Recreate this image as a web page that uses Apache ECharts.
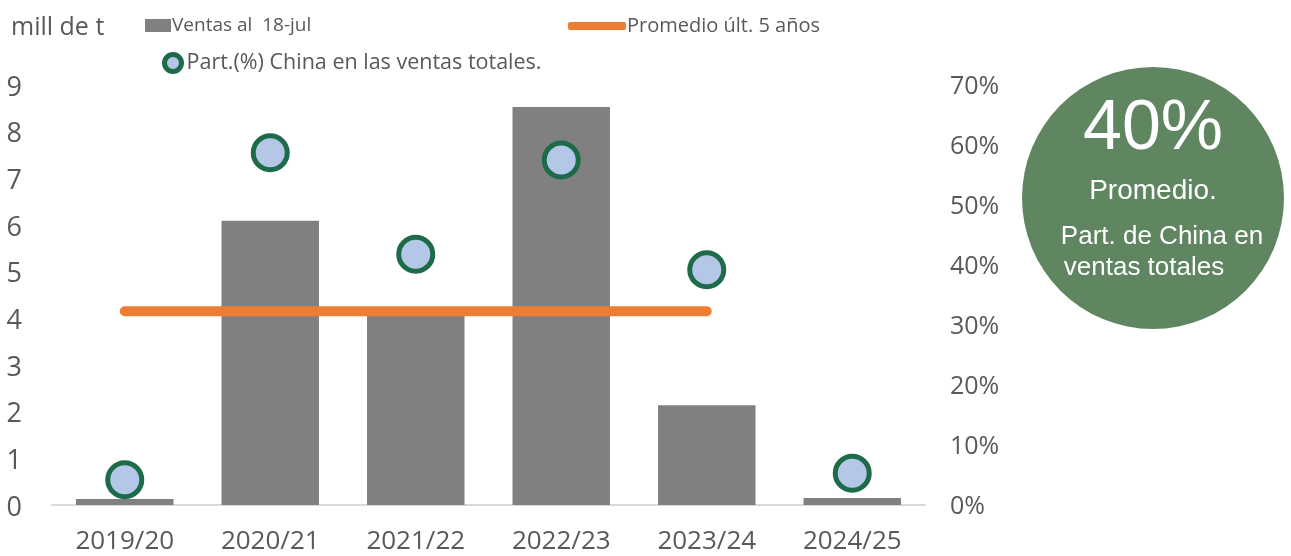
<!DOCTYPE html>
<html lang="es">
<head>
  <meta charset="UTF-8">
  <title>Ventas</title>
  <style type="text/css">
    * { margin: 0; padding: 0; }
    html, body { width: 100%; height: 100%; overflow: hidden; background: #fff; }
    #main { width: 1291px; height: 556px; }
  </style>
  <script src="https://cdn.jsdelivr.net/npm/echarts@6/dist/echarts.min.js"></script>
</head>
<body>
<div id="main"></div>
<script type="text/javascript">
  var categories = ['2019/20', '2020/21', '2021/22', '2022/23', '2023/24', '2024/25'];
  var ventas = [0.13, 6.09, 4.05, 8.53, 2.14, 0.15];
  var promedio = [4.15, 4.15, 4.15, 4.15, 4.15, null];
  var partChina = [0.042, 0.587, 0.418, 0.575, 0.392, 0.053];
  var leftTicks = [0, 9, 1];
  var rightTicks = [0, 0.7, 0.1];

  var font = '"Open Sans", sans-serif';
  var grey = '#595959';

  var chart = echarts.init(document.getElementById('main'));
  var option = {
    animation: false,
    title: {
      text: 'mill de t',
      left: 6, top: 10,
      textStyle: { fontFamily: font, fontSize: 25, fontWeight: 'normal', color: grey }
    },
    legend: [
      {
        data: ['Ventas al  18-jul'],
        left: 140, top: 11,
        itemWidth: 26, itemHeight: 13,
        icon: 'rect',
        textStyle: { fontFamily: font, fontSize: 19, color: grey, padding: [0, 0, 0, -4] }
      },
      {
        data: ['Promedio últ. 5 años'],
        left: 563, top: 11,
        itemWidth: 58, itemHeight: 8,
        icon: 'roundRect',
        textStyle: { fontFamily: font, fontSize: 20, color: grey, padding: [0, 0, 0, -4] }
      },
      {
        data: [{
          name: 'Part.(%) China en las ventas totales.',
          itemStyle: { color: '#b4c7e7', borderColor: '#1e6b4a', borderWidth: 5 }
        }],
        left: 157, top: 47,
        itemWidth: 17, itemHeight: 17,
        icon: 'circle',
        textStyle: { fontFamily: font, fontSize: 21.5, color: grey, padding: [0, 0, 0, 0] }
      }
    ],
    grid: { left: 52, right: 366, top: 85, bottom: 51 },
    xAxis: {
      type: 'category',
      data: categories,
      axisLine: { lineStyle: { color: '#d9d9d9', width: 2 } },
      axisTick: { show: false },
      axisLabel: { interval: 0, fontFamily: font, fontSize: 26, color: grey, margin: 24 }
    },
    yAxis: [
      {
        type: 'value',
        min: leftTicks[0], max: leftTicks[1], interval: leftTicks[2],
        splitLine: { show: false },
        axisLine: { show: false },
        axisTick: { show: false },
        axisLabel: {
          margin: 30,
          formatter: function (v) { return '{t|' + v + '}'; },
          rich: { t: { fontFamily: font, fontSize: 27, color: grey, padding: [6, 0, 0, 0] } }
        }
      },
      {
        type: 'value',
        min: rightTicks[0], max: rightTicks[1], interval: rightTicks[2],
        splitLine: { show: false },
        axisLine: { show: false },
        axisTick: { show: false },
        axisLabel: {
          margin: 25,
          formatter: function (v) { return '{t|' + Math.round(v * 100) + '%}'; },
          rich: { t: { fontFamily: font, fontSize: 25, color: grey, padding: [4, 0, 0, 0] } }
        }
      }
    ],
    series: [
      {
        name: 'Ventas al  18-jul',
        type: 'bar',
        data: ventas,
        barWidth: '67%',
        itemStyle: { color: '#808080' },
        z: 1
      },
      {
        name: 'Promedio últ. 5 años',
        type: 'line',
        data: promedio,
        symbol: 'none',
        lineStyle: { color: '#ed7d31', width: 10, cap: 'round' },
        itemStyle: { color: '#ed7d31' },
        z: 2
      },
      {
        name: 'Part.(%) China en las ventas totales.',
        type: 'scatter',
        yAxisIndex: 1,
        data: partChina,
        symbolSize: 34,
        itemStyle: { color: '#b4c7e7', borderColor: '#1e6b4a', borderWidth: 5, opacity: 1 },
        z: 3
      }
    ],
    graphic: [
      {
        type: 'circle',
        shape: { cx: 1153, cy: 198, r: 131 },
        style: { fill: '#5f8661' }
      },
      {
        type: 'text', x: 1153, y: 130,
        style: { text: '40%', fill: '#fff', font: '70px "Liberation Sans", sans-serif', align: 'center', verticalAlign: 'middle' }
      },
      {
        type: 'text', x: 1153, y: 191,
        style: { text: 'Promedio.', fill: '#fff', font: '28px "Liberation Sans", sans-serif', align: 'center', verticalAlign: 'middle' }
      },
      {
        type: 'text', x: 1162, y: 237,
        style: { text: 'Part. de China en', fill: '#fff', font: '26px "Liberation Sans", sans-serif', align: 'center', verticalAlign: 'middle' }
      },
      {
        type: 'text', x: 1144, y: 268,
        style: { text: 'ventas totales', fill: '#fff', font: '26px "Liberation Sans", sans-serif', align: 'center', verticalAlign: 'middle' }
      }
    ]
  };
  chart.setOption(option);
</script>
</body>
</html>
